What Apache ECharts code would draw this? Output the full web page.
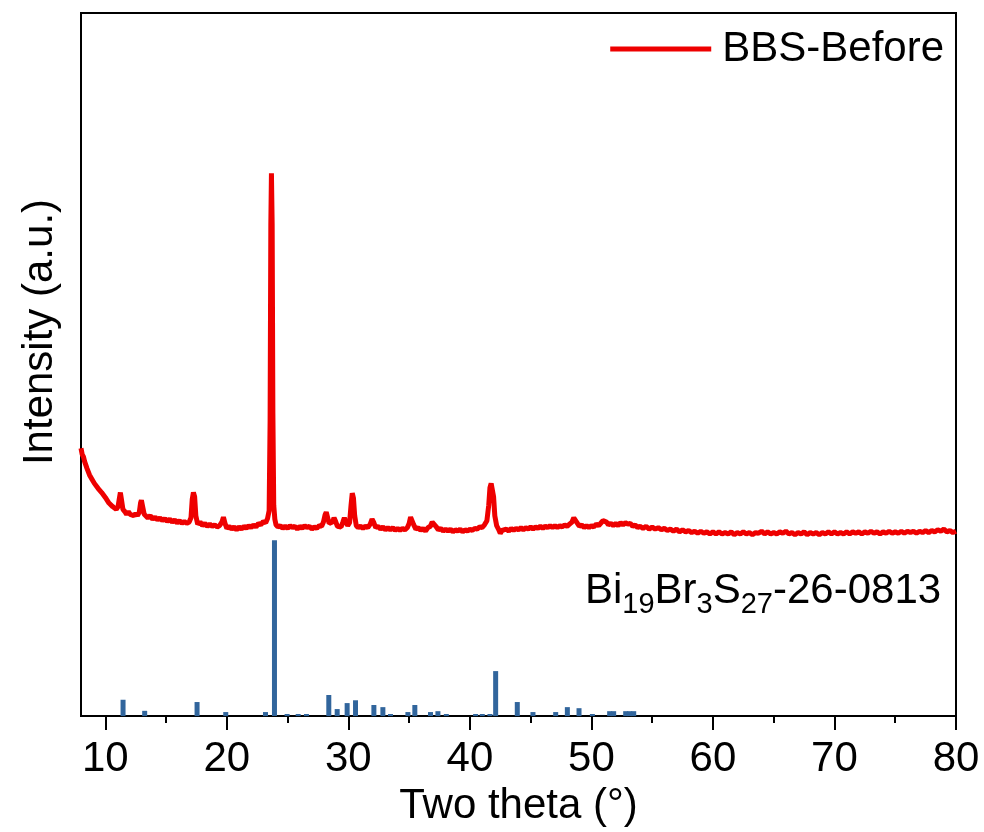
<!DOCTYPE html>
<html>
<head>
<meta charset="utf-8">
<script src="https://cdn.jsdelivr.net/npm/echarts@6/dist/echarts.min.js"></script>
<style>
html,body{margin:0;padding:0;background:#fff;}
#chart{width:984px;height:832px;}
</style>
</head>
<body>
<div id="chart"></div>
<script>
// Measured XRD pattern: [2theta (deg), intensity (a.u.)]
const bbsBefore = [
[8.00,381],[8.10,372],[8.20,369],[8.30,362],[8.40,361],[8.50,352],[8.60,351],[8.70,343],[8.80,344],[8.90,337],
[9.00,338],[9.10,331],[9.25,331],[9.40,324],[9.55,325],[9.70,318],[9.85,318],[10.00,311],[10.15,310],[10.30,303],
[10.45,304],[10.60,298],[10.75,299],[10.90,294],[11.05,298],[11.15,309],[11.24,318],[11.33,308],[11.45,294],[11.60,291],
[11.75,287],[11.90,291],[12.05,287],[12.20,289],[12.35,285],[12.50,288],[12.65,285],[12.80,290],[12.90,303],[12.97,307],
[13.05,300],[13.20,287],[13.35,285],[13.50,282],[13.70,285],[13.90,280],[14.10,283],[14.30,279],[14.50,282],[14.70,278],
[14.90,281],[15.10,277],[15.30,280],[15.50,276],[15.70,279],[15.90,275],[16.10,278],[16.30,274],[16.50,277],[16.70,274],
[16.90,276],[17.05,282],[17.15,308],[17.25,318],[17.35,312],[17.45,285],[17.60,273],[17.80,276],[18.00,271],[18.20,274],
[18.40,270],[18.60,273],[18.80,270],[19.00,272],[19.20,269],[19.40,271],[19.60,276],[19.72,283],[19.85,274],[20.00,267],
[20.20,270],[20.40,266],[20.60,269],[20.80,265],[21.00,269],[21.20,266],[21.40,270],[21.60,267],[21.80,271],[22.00,268],
[22.20,272],[22.40,269],[22.60,274],[22.80,272],[23.00,277],[23.20,275],[23.35,281],[23.48,292],[23.56,420],[23.62,700],
[23.67,772],[23.73,700],[23.79,430],[23.86,300],[23.95,280],[24.05,272],[24.20,269],[24.40,271],[24.60,267],[24.80,270],
[25.00,267],[25.20,271],[25.40,268],[25.60,270],[25.80,266],[26.00,270],[26.20,267],[26.40,271],[26.60,268],[26.80,270],
[27.00,266],[27.20,269],[27.40,267],[27.60,271],[27.80,270],[27.95,276],[28.08,286],[28.18,290],[28.30,282],[28.42,274],
[28.55,273],[28.70,276],[28.82,282],[28.95,277],[29.10,270],[29.25,272],[29.40,269],[29.55,276],[29.67,282],[29.80,276],
[29.95,271],[30.10,275],[30.22,300],[30.32,317],[30.42,310],[30.52,285],[30.65,271],[30.80,268],[31.00,270],[31.20,267],
[31.40,270],[31.60,268],[31.80,273],[31.95,280],[32.10,275],[32.25,268],[32.45,270],[32.65,266],[32.85,269],[33.05,265],
[33.25,268],[33.45,265],[33.65,268],[33.85,264],[34.05,267],[34.25,264],[34.45,267],[34.65,265],[34.85,268],[35.00,274],
[35.12,283],[35.25,282],[35.38,272],[35.55,266],[35.75,268],[35.95,264],[36.15,267],[36.35,263],[36.55,268],[36.75,270],
[36.90,276],[37.05,274],[37.20,270],[37.40,265],[37.60,267],[37.80,263],[38.00,266],[38.20,263],[38.40,266],[38.60,262],
[38.80,265],[39.00,263],[39.20,266],[39.40,262],[39.60,265],[39.80,263],[40.00,266],[40.20,264],[40.40,267],[40.60,266],
[40.80,269],[41.00,268],[41.20,272],[41.40,278],[41.55,300],[41.65,325],[41.75,331],[41.85,329],[41.95,312],[42.05,285],
[42.20,271],[42.35,266],[42.50,260],[42.65,264],[42.80,263],[43.00,266],[43.20,263],[43.40,267],[43.60,264],[43.80,267],
[44.00,265],[44.20,268],[44.40,265],[44.60,268],[44.80,266],[45.00,269],[45.20,266],[45.40,269],[45.60,267],[45.80,270],
[46.00,267],[46.20,270],[46.40,268],[46.60,271],[46.80,268],[47.00,271],[47.20,268],[47.40,271],[47.60,269],[47.80,272],
[48.00,270],[48.20,273],[48.40,276],[48.55,282],[48.70,281],[48.85,274],[49.00,270],[49.20,272],[49.40,268],[49.60,271],
[49.80,268],[50.00,271],[50.20,269],[50.40,273],[50.60,271],[50.80,275],[50.95,278],[51.10,280],[51.25,276],[51.40,272],
[51.60,274],[51.80,271],[52.00,274],[52.20,271],[52.40,275],[52.60,272],[52.80,275],[53.00,273],[53.20,274],[53.40,270],
[53.60,272],[53.80,268],[54.00,270],[54.25,267],[54.50,270],[54.75,266],[55.00,269],[55.25,266],[55.50,268],[55.75,265],
[56.00,267],[56.25,264],[56.50,266],[56.75,263],[57.00,266],[57.25,262],[57.50,265],[57.75,262],[58.00,264],[58.25,261],
[58.50,263],[58.75,260],[59.00,263],[59.25,260],[59.50,262],[59.75,259],[60.00,262],[60.25,259],[60.50,262],[60.75,259],
[61.00,261],[61.25,259],[61.50,262],[61.75,258],[62.00,261],[62.25,259],[62.50,262],[62.75,259],[63.00,261],[63.25,258],
[63.50,261],[63.75,260],[64.00,263],[64.25,259],[64.50,262],[64.75,259],[65.00,261],[65.25,259],[65.50,262],[65.75,260],
[66.00,263],[66.25,259],[66.50,261],[66.75,258],[67.00,261],[67.25,259],[67.50,262],[67.75,258],[68.00,261],[68.25,259],
[68.50,261],[68.75,258],[69.00,261],[69.25,259],[69.50,262],[69.75,259],[70.00,262],[70.25,259],[70.50,261],[70.75,259],
[71.00,262],[71.25,259],[71.50,262],[71.75,260],[72.00,262],[72.25,259],[72.50,262],[72.75,260],[73.00,263],[73.25,260],
[73.50,262],[73.75,259],[74.00,262],[74.25,260],[74.50,263],[74.75,260],[75.00,262],[75.25,260],[75.50,263],[75.75,260],
[76.00,263],[76.25,261],[76.50,263],[76.75,260],[77.00,263],[77.25,261],[77.50,264],[77.75,261],[78.00,264],[78.25,262],
[78.50,265],[78.75,263],[79.00,266],[79.25,262],[79.50,264],[79.75,261],[80.00,263]
];

// Reference card Bi19Br3S27 (PDF 26-0813): 2theta and relative intensity
const refTheta = [11.46,13.24,17.55,19.91,23.18,23.92,24.96,25.87,26.55,28.39,29.08,29.90,30.59,32.10,32.84,33.47,34.90,35.47,36.76,37.37,38.06,40.47,41.02,41.65,42.12,43.90,45.19,47.06,48.02,48.98,50.08,51.50,51.83,52.82,53.15,53.48];
const refIntensity = [9.3,3.0,8.0,2.3,2.3,100,1.2,1.2,1.2,12.0,4.0,7.4,9.0,6.3,5.1,1.2,2.3,6.3,2.3,2.8,1.2,1.2,1.2,1.2,25.6,8.0,2.3,2.3,5.1,4.5,1.2,2.8,2.8,2.8,2.8,2.8];

const majorTicks = [10,20,30,40,50,60,70,80];
const minorTicks = [15,25,35,45,55,65,75];

const seriesName = 'BBS-Before';
const xTitle = 'Two theta (°)';
const yTitle = 'Intensity (a.u.)';

const FONT = 'Liberation Sans, Arial, sans-serif';
const chart = echarts.init(document.getElementById('chart'), null, {renderer:'canvas'});

const refData = refTheta.map((t,i)=>[t, refIntensity[i]]);

const option = {
  animation:false,
  backgroundColor:'#fff',
  grid:{left:81,right:28,top:13,bottom:114,show:true,borderColor:'#000',borderWidth:2,backgroundColor:'transparent'},
  legend:{
    data:[seriesName], right:35, top:23, icon:'rect', itemWidth:101, itemHeight:5,
    textStyle:{fontSize:42,color:'#000',fontFamily:FONT,padding:[0,0,0,6]}
  },
  xAxis:[
    {type:'value',min:8,max:80,position:'bottom',
     axisLine:{show:true,onZero:false,lineStyle:{color:'#000',width:2}},
     axisTick:{show:true,inside:false,length:14,customValues:majorTicks,lineStyle:{color:'#000',width:2}},
     axisLabel:{customValues:majorTicks,fontSize:42,color:'#000',margin:22,fontFamily:FONT},
     splitLine:{show:false},
     name:xTitle,nameLocation:'middle',nameGap:62,
     nameTextStyle:{fontSize:42,color:'#000',fontFamily:FONT}},
    {type:'value',min:8,max:80,position:'bottom',
     axisLine:{show:false,onZero:false},
     axisTick:{show:true,inside:false,length:7,customValues:minorTicks,lineStyle:{color:'#000',width:2}},
     axisLabel:{show:false},splitLine:{show:false}}
  ],
  yAxis:[
    {type:'value',min:0,max:1000,show:false,splitLine:{show:false}},
    {type:'value',min:0,max:400,show:false,splitLine:{show:false}}
  ],
  graphic:[
    {type:'text',x:40,y:332,rotation:Math.PI/2,
     style:{text:yTitle,fontSize:42,fill:'#000',fontFamily:FONT,textAlign:'center',textVerticalAlign:'middle'}},
    {type:'text',x:585,y:563,
     style:{
       text:'{m|Bi}{s|19}{m|Br}{s|3}{m|S}{s|27}{m|-26-0813}',
       fill:'#000',fontFamily:FONT,
       rich:{
         m:{fontSize:42,fontFamily:FONT,fill:'#000',lineHeight:56,verticalAlign:'middle'},
         s:{fontSize:29,fontFamily:FONT,fill:'#000',lineHeight:56,verticalAlign:'bottom'}
       }
     }}
  ],
  series:[
    {name:seriesName,type:'line',xAxisIndex:0,yAxisIndex:0,data:bbsBefore,showSymbol:false,symbol:'none',
     lineStyle:{color:'#ee0000',width:5},itemStyle:{color:'#ee0000'},z:3},
    {name:'ref',type:'bar',xAxisIndex:0,yAxisIndex:1,data:refData,barWidth:5,
     itemStyle:{color:'#31659c'},z:2}
  ]
};
chart.setOption(option);
</script>
</body>
</html>
